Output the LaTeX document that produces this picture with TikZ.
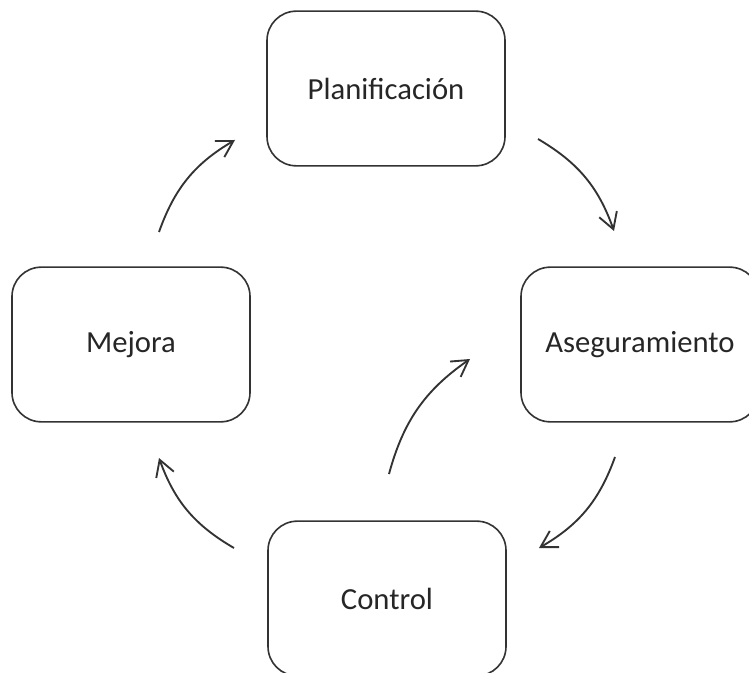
\documentclass[tikz,border=0pt]{standalone}
\usepackage{fontspec}
\setmainfont{Carlito}
\usetikzlibrary{arrows.meta}
\begin{document}
\begin{tikzpicture}[x=0.75pt,y=-0.75pt,
  stage/.style={draw=black!80, line width=1.2pt, rounded corners=22pt,
    minimum width=178.5pt, minimum height=116pt, inner sep=0pt,
    text=black!85, font=\fontsize{23}{27}\selectfont},
  flow/.style={draw=black!80, line width=1.4pt,
    -{Straight Barb[length=12pt,width=14pt,line width=1.4pt]}}]
\useasboundingbox (0,0) rectangle (749,673);
\begin{scope}
\clip (0,0) rectangle (749,673);
\node[stage] (plan) at (386,88.5) {Planificación};
\node[stage] (aseg) at (640,344.5) {Aseguramiento};
\node[stage] (mej)  at (131,344.5) {Mejora};
\node[stage] (ctrl) at (387,598.5) {Control};
\end{scope}
% free ends of the cycle arrows
\coordinate (a1s) at (538,139);  \coordinate (a1e) at (614,231);
\coordinate (a2s) at (615,457);  \coordinate (a2e) at (539,548);
\coordinate (a3s) at (234,548);  \coordinate (a3e) at (159,458);
\coordinate (a4s) at (159,232);  \coordinate (a4e) at (235,140);
\coordinate (a5s) at (389,474);  \coordinate (a5e) at (470,359);
\draw[flow] (a1s) to[bend left=20] (a1e);
\draw[flow] (a2s) to[bend left=20] (a2e);
\draw[flow] (a3s) to[bend left=20] (a3e);
\draw[flow] (a4s) to[bend left=20] (a4e);
\draw[flow] (a5s) to[bend left=20] (a5e);
\end{tikzpicture}
\end{document}
